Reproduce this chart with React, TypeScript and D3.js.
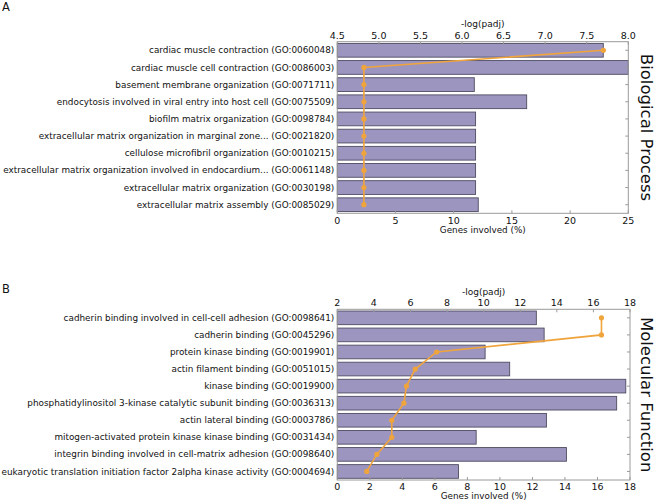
import React from "react";
import * as d3 from "d3";

const bpTerms = [
  "cardiac muscle contraction (GO:0060048)",
  "cardiac muscle cell contraction (GO:0086003)",
  "basement membrane organization (GO:0071711)",
  "endocytosis involved in viral entry into host cell (GO:0075509)",
  "biofilm matrix organization (GO:0098784)",
  "extracellular matrix organization in marginal zone... (GO:0021820)",
  "cellulose microfibril organization (GO:0010215)",
  "extracellular matrix organization involved in endocardium... (GO:0061148)",
  "extracellular matrix organization (GO:0030198)",
  "extracellular matrix assembly (GO:0085029)",
];
const bpGenes = [22.85, 25.0, 11.77, 16.27, 11.88, 11.88, 11.88, 11.88, 11.88, 12.11];
const bpLogP = [7.7, 4.82, 4.82, 4.82, 4.82, 4.82, 4.82, 4.82, 4.82, 4.82];
const bpGenesTicks = [0, 5, 10, 15, 20, 25];
const bpLogTicks = [4.5, 5.0, 5.5, 6.0, 6.5, 7.0, 7.5, 8.0];

const mfTerms = [
  "cadherin binding involved in cell-cell adhesion (GO:0098641)",
  "cadherin binding (GO:0045296)",
  "protein kinase binding (GO:0019901)",
  "actin filament binding (GO:0051015)",
  "kinase binding (GO:0019900)",
  "phosphatidylinositol 3-kinase catalytic subunit binding (GO:0036313)",
  "actin lateral binding (GO:0003786)",
  "mitogen-activated protein kinase kinase binding (GO:0031434)",
  "integrin binding involved in cell-matrix adhesion (GO:0098640)",
  "eukaryotic translation initiation factor 2alpha kinase activity (GO:0004694)",
];
const mfGenes = [12.24, 12.72, 9.09, 10.6, 17.74, 17.18, 12.86, 8.54, 14.09, 7.45];
const mfLogP = [16.44, 16.44, 7.43, 6.26, 5.78, 5.64, 4.98, 4.98, 4.16, 3.61];
const mfGenesTicks = [0, 2, 4, 6, 8, 10, 12, 14, 16, 18];
const mfLogTicks = [2, 4, 6, 8, 10, 12, 14, 16, 18];

const FONT = "DejaVu Sans, sans-serif";
const SPINE = "#9a9a9a";
const BAR_FILL = "#9c95c0";
const BAR_EDGE = "#4e4c60";
const ORANGE = "#f0a43c";

type PanelProps = {
  letter: string;
  side: string;
  terms: string[];
  genes: number[];
  logp: number[];
  genesDomain: [number, number];
  logDomain: [number, number];
  genesTicks: number[];
  logTicks: number[];
  logFmt: (v: number) => string;
  top: number;
  bottom: number;
  right: number;
  letterY: number;
  genesLabelDy: number;
  tickDy: number;
};

function Panel(p: PanelProps) {
  const left = 337.3;
  const x = d3.scaleLinear().domain(p.genesDomain).range([left, p.right]);
  const x2 = d3.scaleLinear().domain(p.logDomain).range([left, p.right]);
  const y = d3.scaleBand<string>().domain(p.terms).range([p.top, p.bottom]).paddingInner(0.2).paddingOuter(0.1);
  const yc = (t: string) => (y(t) as number) + y.bandwidth() / 2;
  const line = d3
    .line<number>()
    .x((d) => x2(d))
    .y((_, i) => yc(p.terms[i]));
  const sideX = 641;
  const sideY = (p.top + p.bottom) / 2;
  return (
    <g>
      <text x={2} y={p.letterY} fontFamily={FONT} fontSize={11.5} fill="#111">
        {p.letter}
      </text>
      {p.terms.map((t, i) => (
        <rect
          key={"b" + i}
          x={x(0)}
          y={y(t)}
          width={x(p.genes[i]) - x(0)}
          height={y.bandwidth()}
          fill={BAR_FILL}
          stroke={BAR_EDGE}
          strokeWidth={0.9}
        />
      ))}
      <rect x={left} y={p.top} width={p.right - left} height={p.bottom - p.top} fill="none" stroke={SPINE} strokeWidth={1} />
      {p.terms.map((t, i) => (
        <g key={"l" + i}>
          <text x={left - 3} y={yc(t)} dy="0.35em" textAnchor="end" fontFamily={FONT} fontSize={8.85} fill="#111">
            {t}
          </text>
          <line x1={left} x2={left + 3} y1={yc(t)} y2={yc(t)} stroke={SPINE} />
          <line x1={p.right} x2={p.right - 3} y1={yc(t)} y2={yc(t)} stroke={SPINE} />
        </g>
      ))}
      {p.genesTicks.map((v) => (
        <g key={"g" + v}>
          <line x1={x(v)} x2={x(v)} y1={p.bottom} y2={p.bottom - 3} stroke={SPINE} />
          <text x={x(v)} y={p.bottom + p.tickDy} textAnchor="middle" fontFamily={FONT} fontSize={9.5} fill="#111">
            {v}
          </text>
        </g>
      ))}
      <text x={(left + p.right) / 2} y={p.bottom + p.genesLabelDy} textAnchor="middle" fontFamily={FONT} fontSize={8.8} fill="#111">
        Genes involved (%)
      </text>
      {p.logTicks.map((v) => (
        <g key={"p" + v}>
          <line x1={x2(v)} x2={x2(v)} y1={p.top} y2={p.top + 3} stroke={SPINE} />
          <text x={x2(v)} y={p.top - 3} textAnchor="middle" fontFamily={FONT} fontSize={9.5} fill="#111">
            {p.logFmt(v)}
          </text>
        </g>
      ))}
      <text x={(left + p.right) / 2} y={p.top - 14.5} textAnchor="middle" fontFamily={FONT} fontSize={9} fill="#111">
        -log(padj)
      </text>
      <path d={line(p.logp) || ""} fill="none" stroke={ORANGE} strokeWidth={1.6} />
      {p.logp.map((v, i) => (
        <circle key={"c" + i} cx={x2(v)} cy={yc(p.terms[i])} r={2.6} fill={ORANGE} />
      ))}
      <text
        transform={`translate(${sideX},${sideY}) rotate(90)`}
        textAnchor="middle"
        fontFamily={FONT}
        fontSize={16.5}
        fill="#111"
      >
        {p.side}
      </text>
    </g>
  );
}

export default function App() {
  return (
    <svg width={657} height={501} style={{ position: "absolute", left: 0, top: 0, background: "#fff" }}>
      <rect width={657} height={501} fill="#fff" />
      <Panel
        letter="A"
        side="Biological Process"
        terms={bpTerms}
        genes={bpGenes}
        logp={bpLogP}
        genesDomain={[0, 25]}
        logDomain={[4.5, 8]}
        genesTicks={bpGenesTicks}
        logTicks={bpLogTicks}
        logFmt={d3.format(".1f")}
        top={41.7}
        bottom={213.3}
        right={628.3}
        letterY={11}
        genesLabelDy={19.5}
        tickDy={10.5}
      />
      <Panel
        letter="B"
        side="Molecular Function"
        terms={mfTerms}
        genes={mfGenes}
        logp={mfLogP}
        genesDomain={[0, 18]}
        logDomain={[2, 18]}
        genesTicks={mfGenesTicks}
        logTicks={mfLogTicks}
        logFmt={d3.format("d")}
        top={309.3}
        bottom={480}
        right={630}
        letterY={293}
        genesLabelDy={19}
        tickDy={9.5}
      />
    </svg>
  );
}
